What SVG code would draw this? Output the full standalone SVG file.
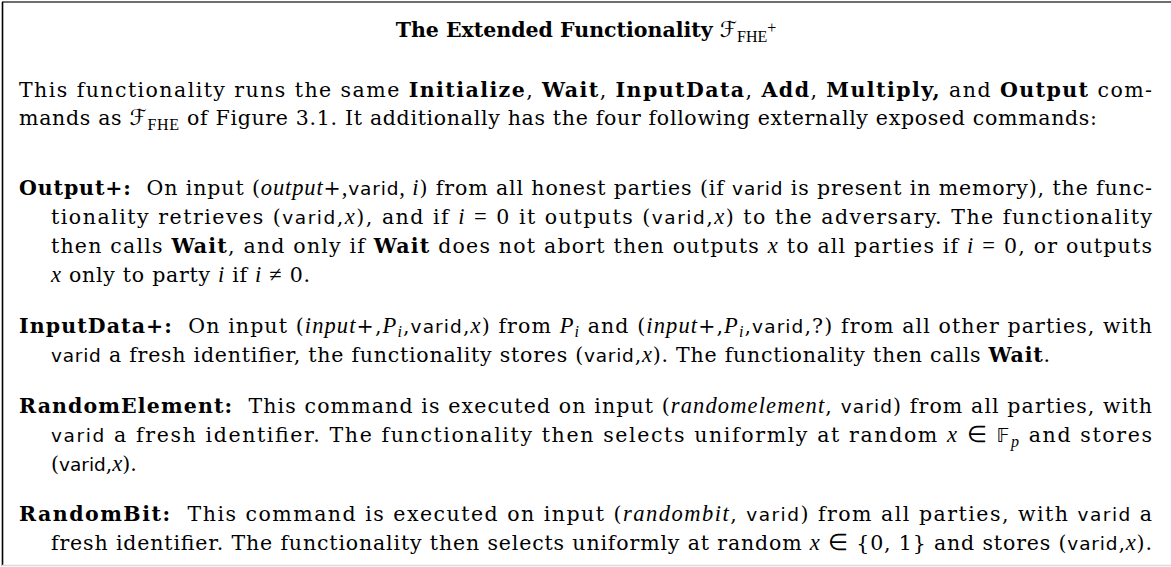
<svg xmlns="http://www.w3.org/2000/svg" width="1171" height="567" viewBox="0 0 1171 567">
<style>
.t{font-family:"DejaVu Serif",serif;font-size:20.5px;fill:#000}
.b{font-weight:bold}
.i{font-style:italic}
.s{font-family:"DejaVu Sans",sans-serif;font-size:18.5px;font-style:normal;font-weight:normal}
.m{font-family:"Liberation Serif",serif;font-style:italic;font-size:22.5px;font-weight:normal}
.r{font-family:"Liberation Serif",serif;font-style:normal;font-size:22.5px;font-weight:normal}
.sub{font-family:"Liberation Serif",serif;font-size:16px;font-weight:normal;font-style:normal}
.subi{font-family:"Liberation Serif",serif;font-size:16px;font-style:italic;font-weight:normal}
.scr{font-family:"DejaVu Serif","DejaVu Sans",serif;font-style:italic;font-weight:normal;font-size:22px}
</style>
<rect x="0" y="0" width="1171" height="567" fill="#fff"/>
<g id="frame">
<line x1="2" y1="2" x2="1171" y2="2" stroke="#6e6e6e" stroke-width="2"/>
<line x1="2.5" y1="2" x2="2.5" y2="566" stroke="#000" stroke-width="1.6"/>
<line x1="2" y1="565.5" x2="1171" y2="565.5" stroke="#dcdcdc" stroke-width="1.5"/>
</g>
<g id="title">
<text class="t b" x="586" y="37" text-anchor="middle">The Extended Functionality <tspan class="scr">ℱ</tspan><tspan class="sub" dy="5">FHE</tspan><tspan class="sub" font-size="11" dy="-9">+</tspan></text>
</g>
<g id="intro">
<text class="t" x="19" y="97" textLength="1133" lengthAdjust="spacing">This functionality runs the same <tspan class="b">Initialize</tspan>, <tspan class="b">Wait</tspan>, <tspan class="b">InputData</tspan>, <tspan class="b">Add</tspan>, <tspan class="b">Multiply,</tspan> and <tspan class="b">Output</tspan> com-</text>
<text class="t" x="19" y="125" textLength="1078" lengthAdjust="spacing">mands as <tspan class="scr">ℱ</tspan><tspan class="sub" dy="5">FHE</tspan><tspan dy="-5"> of Figure 3.1. It additionally has the four following externally exposed commands:</tspan></text>
</g>
<g id="output-plus">
<text class="t" x="19" y="195" textLength="1133" lengthAdjust="spacing"><tspan class="b">Output+:</tspan>&#160; On input (<tspan class="m">output</tspan>+<tspan class="m">,</tspan><tspan class="s">varid</tspan><tspan class="m">, i</tspan>) from all honest parties (if <tspan class="s">varid</tspan> is present in memory), the func-</text>
<text class="t" x="51" y="224" textLength="1101" lengthAdjust="spacing">tionality retrieves (<tspan class="s">varid</tspan>,<tspan class="m">x</tspan>), and if <tspan class="m">i</tspan> <tspan class="r">=</tspan> 0 it outputs (<tspan class="s">varid</tspan>,<tspan class="m">x</tspan>) to the adversary. The functionality</text>
<text class="t" x="51" y="253" textLength="1101" lengthAdjust="spacing">then calls <tspan class="b">Wait</tspan>, and only if <tspan class="b">Wait</tspan> does not abort then outputs <tspan class="m">x</tspan> to all parties if <tspan class="m">i</tspan> <tspan class="r">=</tspan> 0, or outputs</text>
<text class="t" x="51" y="282" textLength="259" lengthAdjust="spacing"><tspan class="m">x</tspan> only to party <tspan class="m">i</tspan> if <tspan class="m">i</tspan> <tspan class="r">≠</tspan> 0.</text>
</g>
<g id="inputdata-plus">
<text class="t" x="19" y="333" textLength="1133" lengthAdjust="spacing"><tspan class="b">InputData+:</tspan>&#160; On input (<tspan class="m">input</tspan>+,<tspan class="m">P</tspan><tspan class="subi" dy="4">i</tspan><tspan dy="-4">,</tspan><tspan class="s">varid</tspan>,<tspan class="m">x</tspan>) from <tspan class="m">P</tspan><tspan class="subi" dy="4">i</tspan><tspan dy="-4"> and (</tspan><tspan class="m">input</tspan>+,<tspan class="m">P</tspan><tspan class="subi" dy="4">i</tspan><tspan dy="-4">,</tspan><tspan class="s">varid</tspan>,?) from all other parties, with</text>
<text class="t" x="51" y="362" textLength="999" lengthAdjust="spacing"><tspan class="s">varid</tspan> a fresh identifier, the functionality stores (<tspan class="s">varid</tspan>,<tspan class="m">x</tspan>). The functionality then calls <tspan class="b">Wait</tspan>.</text>
</g>
<g id="random-element">
<text class="t" x="19" y="412.5" textLength="1133" lengthAdjust="spacing"><tspan class="b">RandomElement:</tspan>&#160; This command is executed on input (<tspan class="m">randomelement</tspan>, <tspan class="s">varid</tspan>) from all parties, with</text>
<text class="t" x="51" y="441.5" textLength="1101" lengthAdjust="spacing"><tspan class="s">varid</tspan> a fresh identifier. The functionality then selects uniformly at random <tspan class="m">x</tspan> <tspan class="r">∈</tspan> <tspan font-family="DejaVu Sans" font-size="19">𝔽</tspan><tspan class="subi" dy="5">p</tspan><tspan dy="-5"> and stores</tspan></text>
<text class="t" x="51" y="470.5">(<tspan class="s">varid</tspan>,<tspan class="m">x</tspan>).</text>
</g>
<g id="random-bit">
<text class="t" x="19" y="521" textLength="1133" lengthAdjust="spacing"><tspan class="b">RandomBit:</tspan>&#160; This command is executed on input (<tspan class="m">randombit</tspan>, <tspan class="s">varid</tspan>) from all parties, with <tspan class="s">varid</tspan> a</text>
<text class="t" x="51" y="550" textLength="1101" lengthAdjust="spacing">fresh identifier. The functionality then selects uniformly at random <tspan class="m">x</tspan> <tspan class="r">∈</tspan> {0, 1} and stores (<tspan class="s">varid</tspan>,<tspan class="m">x</tspan>).</text>
</g>
</svg>
